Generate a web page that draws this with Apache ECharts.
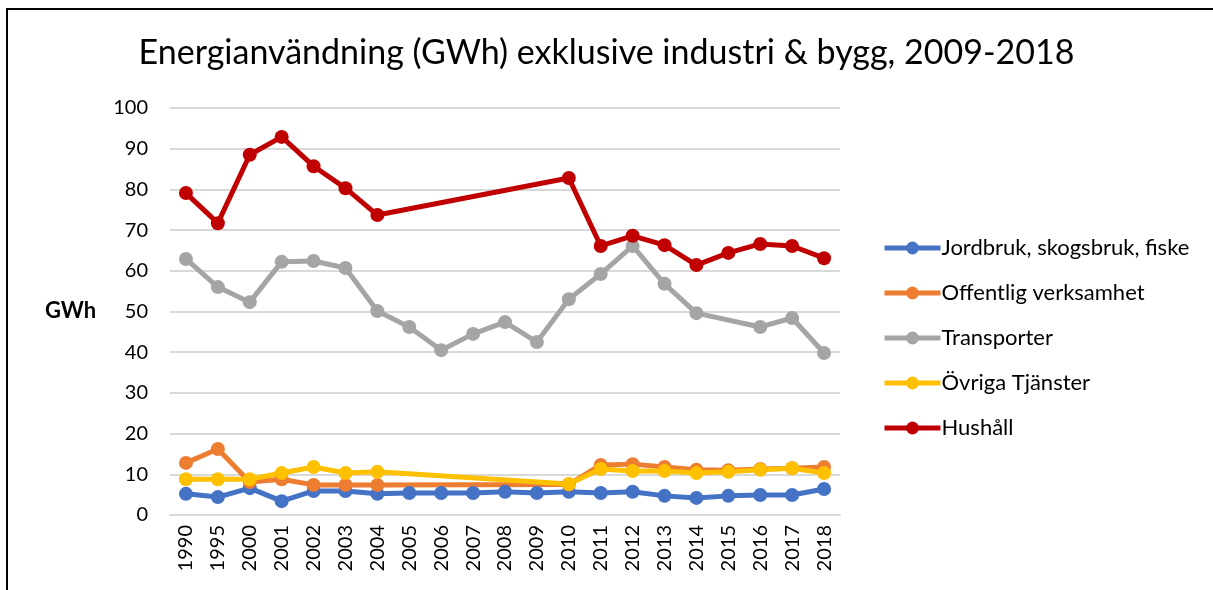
<!DOCTYPE html>
<html>
<head>
<meta charset="utf-8">
<script src="https://cdn.jsdelivr.net/npm/echarts@6/dist/echarts.min.js"></script>
<style>
  html, body { margin: 0; padding: 0; background: #fff; overflow: hidden; }
  #frame { position: absolute; left: 6px; top: 8px; width: 1400px; height: 800px; border: 2px solid #000; }
  #chart { position: absolute; left: 0; top: 0; width: 1213px; height: 590px; }
</style>
</head>
<body>
<div id="frame"></div>
<div id="chart"></div>
<script>
const years = ['1990', '1995', '2000', '2001', '2002', '2003', '2004', '2005', '2006', '2007', '2008',
  '2009', '2010', '2011', '2012', '2013', '2014', '2015', '2016', '2017', '2018'];

const jordbruk = [5.2, 4.4, 6.6, 3.4, 5.9, 5.9, 5.2, 5.4, 5.4, 5.4, 5.7, 5.4, 5.7, 5.4, 5.7, 4.7, 4.2, 4.7, 4.9, 4.9, 6.4];
const offentlig = [12.8, 16.2, 8.1, 8.8, 7.4, 7.4, 7.4, null, null, null, null, null, 7.5, 12.3, 12.5, 11.8, 11.1, 11.0, 11.3, 11.5, 11.8];
const transporter = [62.9, 56.0, 52.3, 62.2, 62.4, 60.7, 50.1, 46.2, 40.5, 44.5, 47.4, 42.5, 53.0, 59.2, 66.1, 56.8, 49.6, null, 46.2, 48.4, 39.8];
const ovriga = [8.8, 8.8, 8.8, 10.3, 11.8, 10.3, 10.6, null, null, null, null, null, 7.6, 11.3, 10.8, 10.8, 10.3, 10.6, 11.1, 11.5, 10.3];
const hushall = [79.1, 71.7, 88.5, 92.9, 85.7, 80.3, 73.7, null, null, null, null, null, 82.8, 66.1, 68.6, 66.3, 61.4, 64.4, 66.6, 66.1, 63.1];

const seriesNames = ['Jordbruk, skogsbruk, fiske', 'Offentlig verksamhet', 'Transporter', 'Övriga Tjänster', 'Hushåll'];
const seriesData = [jordbruk, offentlig, transporter, ovriga, hushall];
const colors = ['#4472C4', '#ED7D31', '#A5A5A5', '#FFC000', '#C00000'];

const font = 'Lato, "Open Sans", sans-serif';

const chart = echarts.init(document.getElementById('chart'), null, { renderer: 'canvas' });

const option = {
  backgroundColor: 'transparent',
  color: colors,
  animation: false,
  title: {
    text: 'Energianvändning (GWh) exklusive industri & bygg, 2009-2018',
    left: 'center',
    top: 31,
    textStyle: { fontFamily: font, fontSize: 34, fontWeight: 'normal', color: '#000' }
  },
  legend: {
    orient: 'vertical',
    left: 877,
    top: 232,
    itemWidth: 56,
    itemHeight: 16,
    itemGap: 23,
    lineStyle: { width: 5 },
    textStyle: { fontFamily: font, fontSize: 22, color: '#000', padding: [0, 0, 0, -4] },
    data: seriesNames
  },
  grid: { left: 170, right: 373, top: 108, bottom: 75 },
  xAxis: {
    type: 'category',
    data: years,
    boundaryGap: true,
    axisLine: { lineStyle: { color: '#D9D9D9', width: 2 } },
    axisTick: { show: false },
    axisLabel: { rotate: 90, fontFamily: font, fontSize: 20, color: '#000', margin: 10, interval: 0 }
  },
  yAxis: {
    type: 'value',
    min: 0,
    max: 100,
    interval: 10,
    axisLine: { show: false },
    axisTick: { show: false },
    splitLine: { lineStyle: { color: '#D9D9D9', width: 2 } },
    axisLabel: { fontFamily: font, fontSize: 20, color: '#000', margin: 22 }
  },
  graphic: [{
    type: 'text',
    left: 45,
    top: 300,
    style: { text: 'GWh', font: 'bold 22px ' + font, fill: '#000' }
  }],
  series: seriesData.map((d, i) => ({
    name: seriesNames[i],
    type: 'line',
    data: d,
    connectNulls: true,
    symbol: 'circle',
    symbolSize: 14,
    lineStyle: { width: 5, color: colors[i] },
    itemStyle: { color: colors[i] }
  }))
};

chart.setOption(option);
</script>
</body>
</html>
